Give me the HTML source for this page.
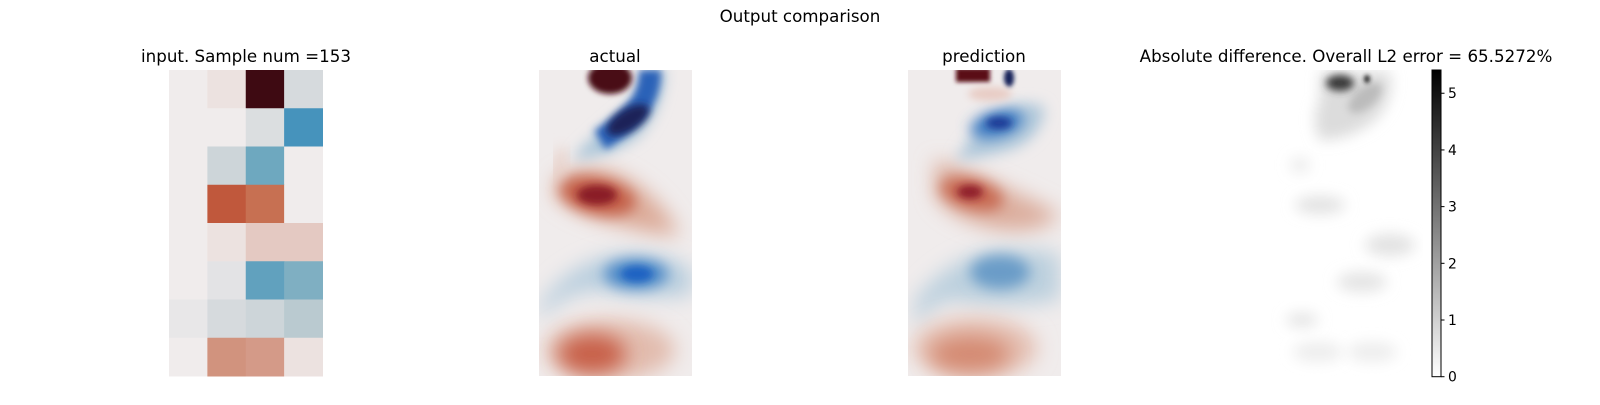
<!DOCTYPE html>
<html><head><meta charset="utf-8"><style>
html,body{margin:0;padding:0;background:#fff;}
body{width:1600px;height:400px;overflow:hidden;font-family:"Liberation Sans","DejaVu Sans",sans-serif;}
text{font-family:"DejaVu Sans","Liberation Sans",sans-serif;fill:#000;}
</style></head><body>
<svg id="fig" width="1600" height="400" viewBox="0 0 1600 400" xmlns="http://www.w3.org/2000/svg">
<defs>
<filter id="b14" x="-80%" y="-80%" width="260%" height="260%"><feGaussianBlur stdDeviation="14"/></filter>
<filter id="b10" x="-80%" y="-80%" width="260%" height="260%"><feGaussianBlur stdDeviation="10"/></filter>
<filter id="b7" x="-80%" y="-80%" width="260%" height="260%"><feGaussianBlur stdDeviation="7"/></filter>
<filter id="b4" x="-80%" y="-80%" width="260%" height="260%"><feGaussianBlur stdDeviation="4"/></filter>
<filter id="b3" x="-80%" y="-80%" width="260%" height="260%"><feGaussianBlur stdDeviation="3"/></filter>
<filter id="b2" x="-80%" y="-80%" width="260%" height="260%"><feGaussianBlur stdDeviation="2"/></filter>
<clipPath id="c2"><rect x="539" y="70" width="153" height="306"/></clipPath>
<clipPath id="c3"><rect x="908" y="70" width="153" height="306"/></clipPath>
<clipPath id="c4"><rect x="1269" y="70" width="154" height="306"/></clipPath>
<linearGradient id="gray" x1="0" y1="1" x2="0" y2="0"><stop offset="0" stop-color="#fff"/><stop offset="1" stop-color="#000"/></linearGradient>
</defs>
<text x="800" y="22" font-size="16.7" text-anchor="middle">Output comparison</text>

<text x="246" y="62" font-size="16.7" text-anchor="middle">input. Sample num =153</text>
<g id="inputmap"></g>

<text x="615" y="62" font-size="16.7" text-anchor="middle">actual</text>
<g clip-path="url(#c2)">
<rect x="539" y="70" width="153" height="306" fill="#f0ecec"/>
<path d="M555 180 Q580 160 620 175 Q660 195 680 235 Q650 235 620 225 Q575 215 555 195 Z" fill="#dcaa98" filter="url(#b10)"/>
<path d="M565 150 Q555 165 560 185" stroke="#e8d0c8" stroke-width="12" fill="none" filter="url(#b7)"/>
<ellipse cx="598" cy="196" rx="38" ry="18" fill="#c4604a" filter="url(#b7)" transform="rotate(12 598 196)"/>
<ellipse cx="597" cy="195" rx="20" ry="10" fill="#8a1a26" filter="url(#b4)"/>
<path d="M575 155 Q600 130 625 110 Q645 95 648 70 L665 70 Q662 110 640 135 Q615 155 575 160 Z" fill="#a8c4d8" filter="url(#b7)"/>
<path d="M600 140 Q625 125 640 105 Q650 90 650 70" stroke="#2a62b8" stroke-width="22" fill="none" filter="url(#b4)"/>
<ellipse cx="628" cy="120" rx="24" ry="11" fill="#1a2458" filter="url(#b4)" transform="rotate(-32 628 120)"/>
<ellipse cx="610" cy="78" rx="22" ry="16" fill="#4a0a14" filter="url(#b3)"/>
<path d="M540 305 Q570 260 620 255 Q670 252 692 270 L692 295 Q650 300 600 290 Q565 290 540 320 Z" fill="#b8cede" filter="url(#b10)"/>
<ellipse cx="636" cy="274" rx="32" ry="15" fill="#4f8ac8" filter="url(#b7)"/>
<ellipse cx="637" cy="274" rx="16" ry="8" fill="#1f62c2" filter="url(#b4)"/>
<ellipse cx="610" cy="350" rx="65" ry="30" fill="#e2bcae" filter="url(#b10)"/>
<ellipse cx="592" cy="354" rx="34" ry="20" fill="#c8604a" filter="url(#b10)"/>
</g>

<text x="984" y="62" font-size="16.7" text-anchor="middle">prediction</text>
<g clip-path="url(#c3)">
<rect x="908" y="70" width="153" height="306" fill="#f0ecec"/>
<path d="M935 160 Q970 170 1010 190 Q1045 205 1060 215 Q1040 235 1000 230 Q950 220 935 195 Z" fill="#dcae9e" filter="url(#b10)"/>
<ellipse cx="972" cy="194" rx="32" ry="15" fill="#c86a52" filter="url(#b7)" transform="rotate(15 972 194)"/>
<ellipse cx="970" cy="192" rx="13" ry="7" fill="#8e1e2a" filter="url(#b4)"/>
<path d="M955 160 Q980 120 1015 105 Q1040 100 1045 110 Q1040 140 1010 150 Q975 160 955 160 Z" fill="#b0c8da" filter="url(#b7)"/>
<ellipse cx="997" cy="124" rx="27" ry="13" fill="#3c7cc2" filter="url(#b7)" transform="rotate(-15 997 124)"/>
<ellipse cx="999" cy="123" rx="13" ry="6" fill="#1a3894" filter="url(#b4)"/>
<path d="M915 300 Q950 255 1000 250 Q1045 248 1060 255 L1060 300 Q1000 310 950 300 Q930 305 915 330 Z" fill="#bcd0de" filter="url(#b10)"/>
<ellipse cx="1000" cy="272" rx="30" ry="17" fill="#6a9cc8" filter="url(#b7)"/>
<ellipse cx="975" cy="348" rx="62" ry="30" fill="#e4beb0" filter="url(#b10)"/>
<ellipse cx="970" cy="354" rx="40" ry="18" fill="#d48a72" filter="url(#b10)"/>
<rect x="956" y="68" width="34" height="14" fill="#5a0a14" filter="url(#b2)"/>
<ellipse cx="1009" cy="78" rx="5" ry="9" fill="#14205a" filter="url(#b2)"/>
<ellipse cx="990" cy="94" rx="22" ry="7" fill="#e8ccc4" filter="url(#b4)"/>
</g>

<text x="1346" y="62" font-size="16.7" text-anchor="middle">Absolute difference. Overall L2 error = 65.5272%</text>
<g clip-path="url(#c4)">
<rect x="1269" y="70" width="154" height="306" fill="#fff"/>
<path d="M1320 72 L1390 72 Q1395 100 1375 120 Q1350 140 1320 140 Q1310 120 1320 100 Z" fill="#dcdcdc" filter="url(#b7)"/>
<ellipse cx="1365" cy="98" rx="20" ry="10" fill="#bcbcbc" filter="url(#b4)" transform="rotate(-40 1365 98)"/>
<ellipse cx="1340" cy="83" rx="14" ry="8" fill="#3a3a3a" filter="url(#b4)"/>
<ellipse cx="1367" cy="79" rx="3" ry="4" fill="#202020" filter="url(#b2)"/>
<ellipse cx="1320" cy="205" rx="25" ry="9" fill="#e2e2e2" filter="url(#b7)"/>
<ellipse cx="1390" cy="245" rx="25" ry="11" fill="#e2e2e2" filter="url(#b7)"/>
<ellipse cx="1362" cy="282" rx="25" ry="10" fill="#e4e4e4" filter="url(#b7)"/>
<ellipse cx="1302" cy="320" rx="16" ry="7" fill="#e4e4e4" filter="url(#b7)"/>
<ellipse cx="1318" cy="352" rx="25" ry="10" fill="#ededed" filter="url(#b7)"/>
<ellipse cx="1372" cy="352" rx="25" ry="10" fill="#ededed" filter="url(#b7)"/>
<ellipse cx="1300" cy="165" rx="10" ry="8" fill="#ececec" filter="url(#b7)"/>
</g>
<g id="colorbar">
<rect x="1432" y="70" width="9" height="306.7" fill="url(#gray)" stroke="#000" stroke-width="1"/>
</g>
</svg>
<script>
const inputRows = [
 [0, 0.05, 1.0, -0.1],
 [0, 0, -0.08, -0.65],
 [0, -0.15, -0.5, 0],
 [0, 0.6, 0.55, 0],
 [0, 0.05, 0.15, 0.15],
 [0, -0.05, -0.55, -0.45],
 [-0.03, -0.1, -0.15, -0.25],
 [0, 0.4, 0.35, 0.05]
];
const cbTicks = [0, 1, 2, 3, 4, 5];
const cbMax = 5.41;

const stops = [[-1,[24,28,67]],[-0.8,[30,70,150]],[-0.65,[70,147,188]],[-0.5,[110,168,191]],[-0.3,[177,197,204]],[-0.1,[214,218,221]],[0,[240,236,236]],[0.05,[236,226,224]],[0.15,[228,201,194]],[0.35,[212,154,136]],[0.45,[205,140,116]],[0.55,[199,112,82]],[0.6,[192,88,60]],[0.8,[154,42,32]],[1,[62,10,18]]];
function cmap(v){
  for(let i=0;i<stops.length-1;i++){
    const a=stops[i],b=stops[i+1];
    if(v<=b[0]){const t=(v-a[0])/(b[0]-a[0]);const c=a[1].map((x,k)=>Math.round(x+(b[1][k]-x)*Math.max(0,Math.min(1,t))));return `rgb(${c})`;}
  }
  return `rgb(${stops[stops.length-1][1]})`;
}
const NS="http://www.w3.org/2000/svg";
const x0=169,y0=70,W=153.5,H=306;
const cw=W/inputRows[0].length, ch=H/inputRows.length;
const g=document.getElementById('inputmap');
inputRows.forEach((row,r)=>row.forEach((v,c)=>{
  const el=document.createElementNS(NS,'rect');
  
  
  el.setAttribute('x',x0+c*cw);el.setAttribute('y',y0+r*ch);
  el.setAttribute('width',cw+0.5);el.setAttribute('height',ch+0.5);
  el.setAttribute('fill',cmap(v));g.appendChild(el);
}));
const cb=document.getElementById('colorbar');
const cbY=v=>376.7-v*(306.7/cbMax);
cbTicks.forEach(t=>{
  const ln=document.createElementNS(NS,'line');
  
  
  ln.setAttribute('x1',1441);ln.setAttribute('x2',1444.5);ln.setAttribute('y1',cbY(t));ln.setAttribute('y2',cbY(t));
  ln.setAttribute('stroke','#000');cb.appendChild(ln);
  const tx=document.createElementNS(NS,'text');
  
  
  tx.setAttribute('x',1448);tx.setAttribute('y',cbY(t)+5);tx.setAttribute('font-size','13.9');
  tx.textContent=t;cb.appendChild(tx);
});
</script>
</body></html>
